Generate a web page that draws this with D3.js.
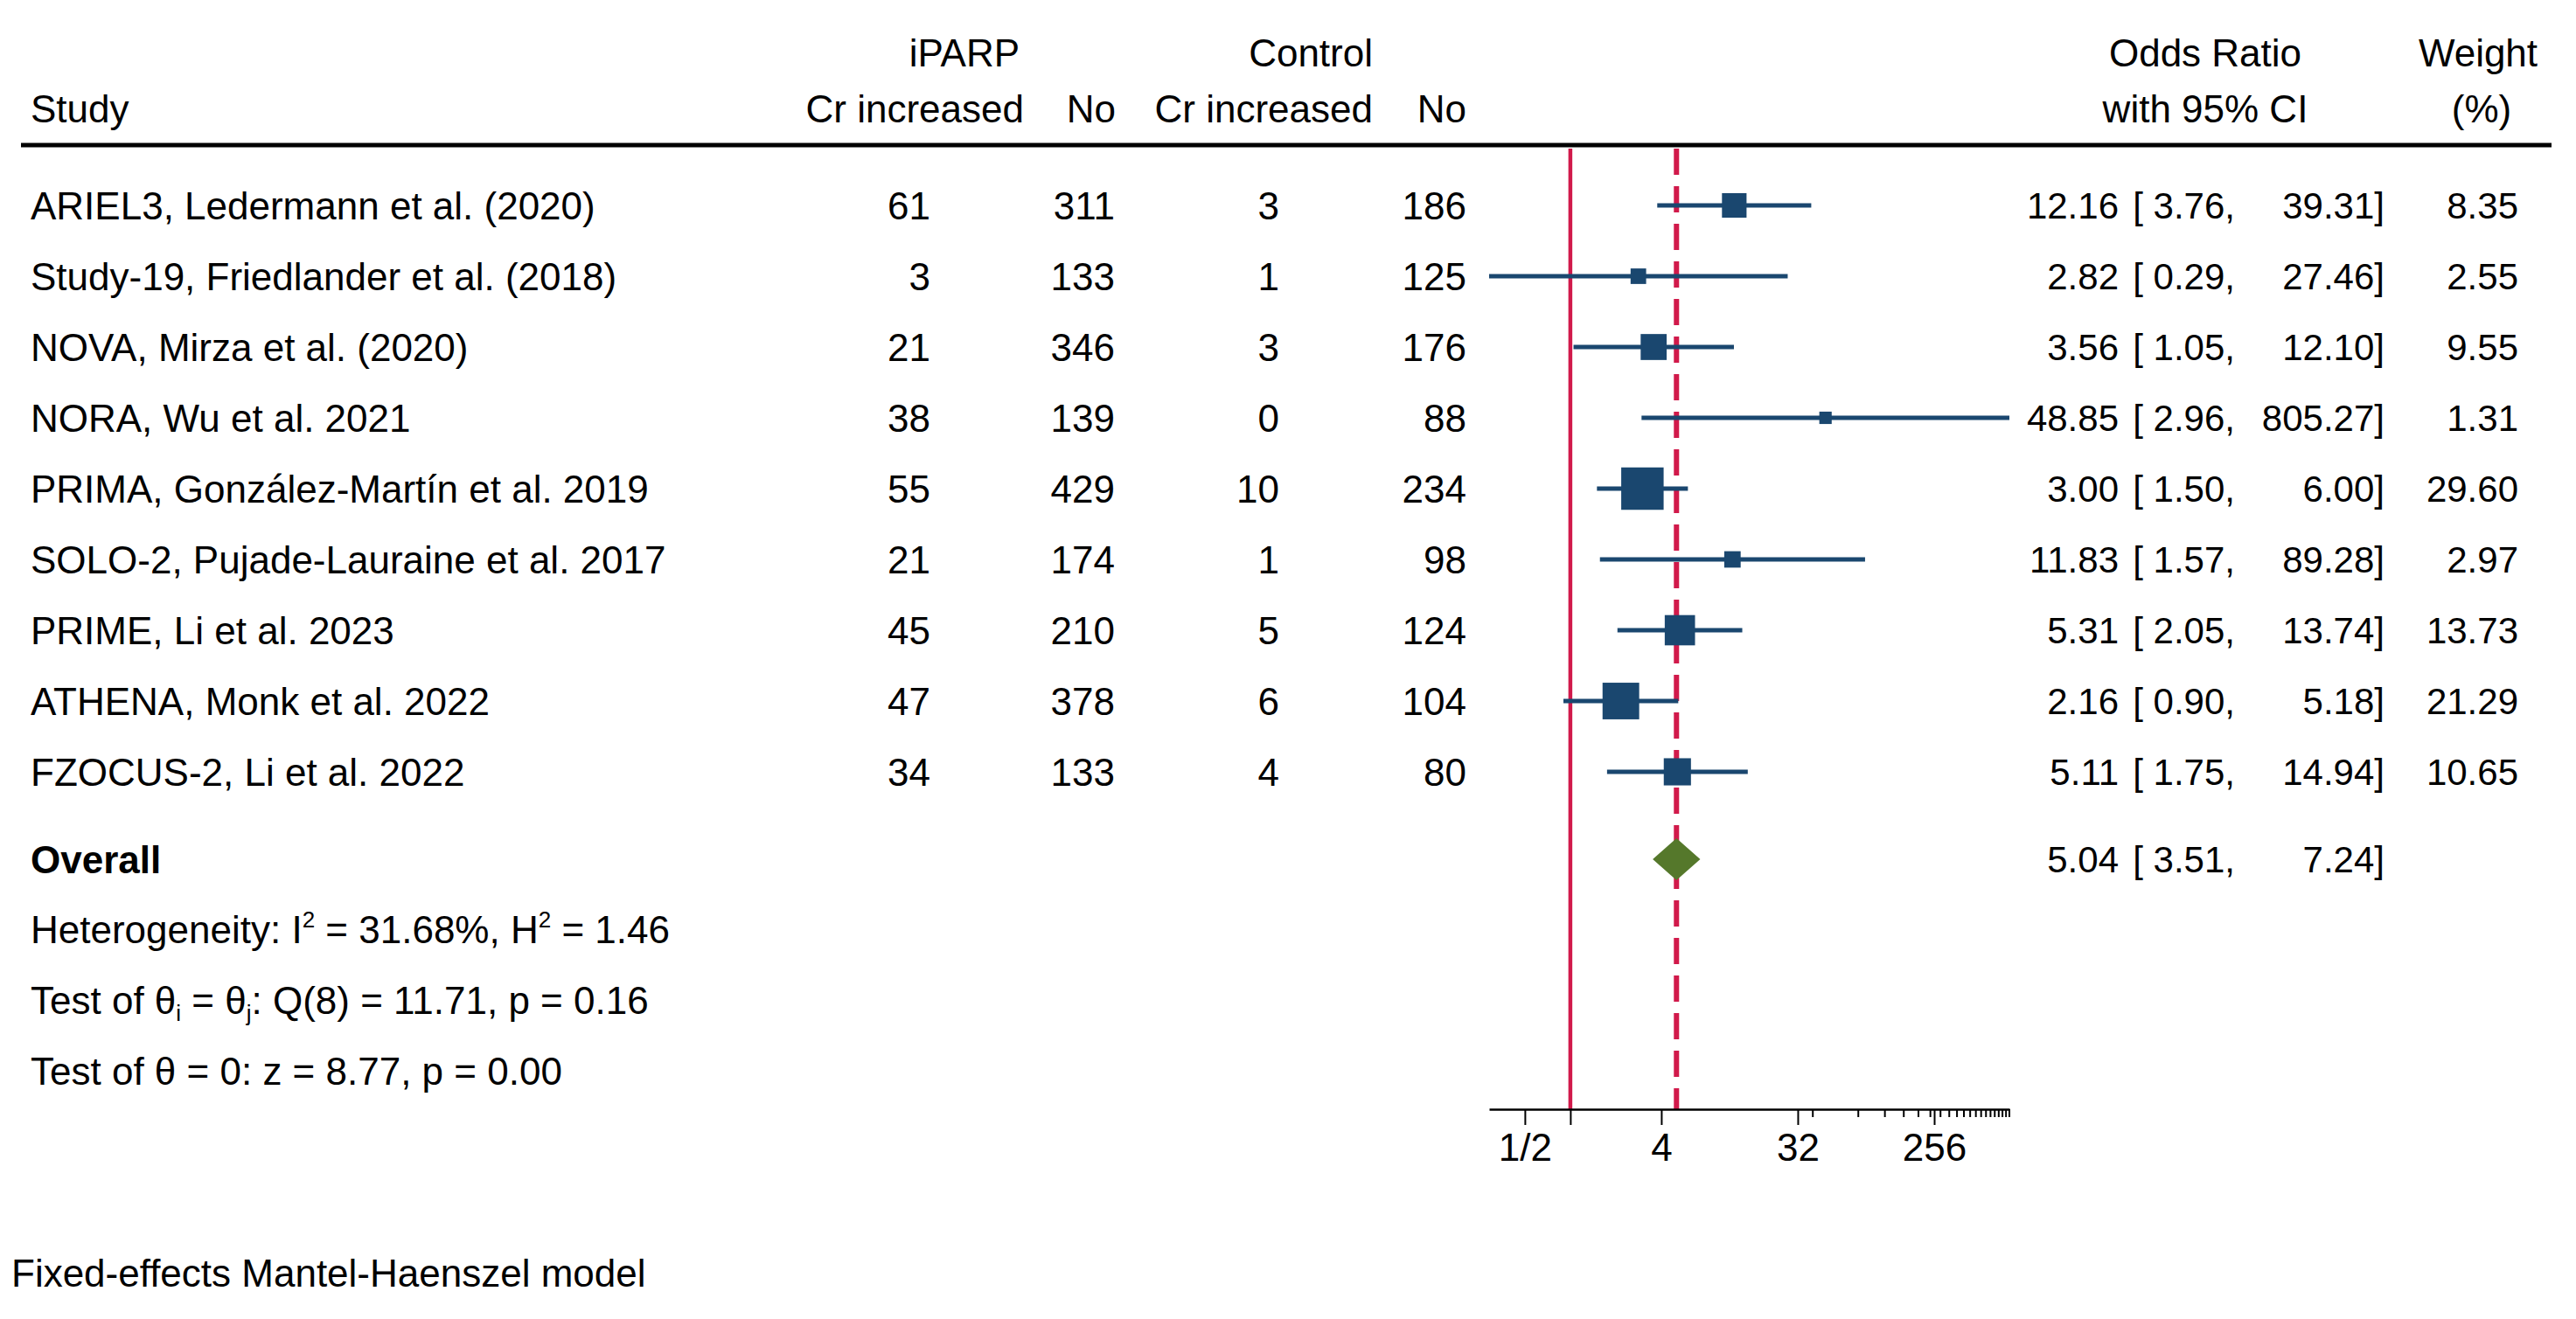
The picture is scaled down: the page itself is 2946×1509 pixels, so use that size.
<!DOCTYPE html>
<html>
<head>
<meta charset="utf-8">
<script src="https://cdn.jsdelivr.net/npm/d3@7"></script>
<style>
  html, body { margin: 0; padding: 0; background: #fff; }
  svg { display: block; font-family: "Liberation Sans", Arial, sans-serif; }
</style>
</head>
<body>
<div id="chart"></div>
<script>
// data
const studies = [
  "ARIEL3, Ledermann et al. (2020)",
  "Study-19, Friedlander et al. (2018)",
  "NOVA, Mirza et al. (2020)",
  "NORA, Wu et al. 2021",
  "PRIMA, González-Martín et al. 2019",
  "SOLO-2, Pujade-Lauraine et al. 2017",
  "PRIME, Li et al. 2023",
  "ATHENA, Monk et al. 2022",
  "FZOCUS-2, Li et al. 2022"
];
const iparpCr = [61, 3, 21, 38, 55, 21, 45, 47, 34];
const iparpNo = [311, 133, 346, 139, 429, 174, 210, 378, 133];
const ctrlCr = [3, 1, 3, 0, 10, 1, 5, 6, 4];
const ctrlNo = [186, 125, 176, 88, 234, 98, 124, 104, 80];
const oddsRatio = [12.16, 2.82, 3.56, 48.85, 3.00, 11.83, 5.31, 2.16, 5.11];
const ciLow = [3.76, 0.29, 1.05, 2.96, 1.50, 1.57, 2.05, 0.90, 1.75];
const ciHigh = [39.31, 27.46, 12.10, 805.27, 6.00, 89.28, 13.74, 5.18, 14.94];
const weights = [8.35, 2.55, 9.55, 1.31, 29.60, 2.97, 13.73, 21.29, 10.65];

const overallOR = 5.04, overallLow = 3.51, overallHigh = 7.24;

const majorTicks = [0.5, 1, 4, 32, 256];
const majorLabels = ["1/2", "", "4", "32", "256"];
const minorTicks = [40, 80, 120, 160, 200, 240, 280, 320, 360, 400, 440, 480,
                    520, 560, 600, 640, 680, 720, 760, 800];

(() => {
  const W = 2946, H = 1509;
  const navy = "#1a476f", red = "#d11a4b", green = "#55782b";
  const fsText = 44, fsNum = 42, fsAxis = 44;

  const svg = d3.select("#chart").append("svg")
    .attr("width", W).attr("height", H)
    .attr("viewBox", `0 0 ${W} ${H}`);

  const rows = studies.map((s, i) => ({
    study: s, a: iparpCr[i], b: iparpNo[i], c: ctrlCr[i], d: ctrlNo[i],
    or: oddsRatio[i], lo: ciLow[i], hi: ciHigh[i], w: weights[i]
  }));

  const x = d3.scaleLog().base(2)
    .domain([d3.min(ciLow), d3.max(ciHigh)])
    .range([1703, 2298]);

  const y = d3.scalePoint().domain(studies).range([235, 883]);
  const yOverall = 983;
  const side = d3.scaleSqrt().domain([0, d3.max(weights)]).range([5, 48.5]);

  const plotTop = 170, axisY = 1269;
  const base = (yc, fs) => yc + fs * 0.36;

  // headers
  const hdr = svg.append("g").attr("font-size", fsText).attr("fill", "#000");
  const h1 = 76, h2 = 140;
  const header = [
    ["iPARP", 1166, h1, "end"], ["Control", 1570, h1, "end"],
    ["Odds Ratio", 2522, h1, "middle"], ["Weight", 2834, h1, "middle"],
    ["Study", 35, h2, "start"], ["Cr increased", 1171, h2, "end"], ["No", 1276, h2, "end"],
    ["Cr increased", 1570, h2, "end"], ["No", 1677, h2, "end"],
    ["with 95% CI", 2522, h2, "middle"], ["(%)", 2838, h2, "middle"]
  ];
  hdr.selectAll("text").data(header).join("text")
    .attr("x", d => d[1]).attr("y", d => d[2])
    .attr("text-anchor", d => d[3])
    .text(d => d[0]);

  svg.append("line")
    .attr("x1", 24).attr("x2", 2918).attr("y1", 166).attr("y2", 166)
    .attr("stroke", "#000").attr("stroke-width", 5);

  // reference lines
  svg.append("line")
    .attr("x1", x(1)).attr("x2", x(1)).attr("y1", plotTop).attr("y2", axisY)
    .attr("stroke", red).attr("stroke-width", 4.5);
  svg.append("line")
    .attr("x1", x(overallOR)).attr("x2", x(overallOR)).attr("y1", plotTop).attr("y2", axisY)
    .attr("stroke", red).attr("stroke-width", 6)
    .attr("stroke-dasharray", "30,13");

  // study rows
  const g = svg.append("g");
  const cols = [
    ["a", 1064], ["b", 1275], ["c", 1463], ["d", 1677]
  ];
  const tx = g.append("g").attr("font-size", fsText);
  tx.selectAll("text.study").data(rows).join("text").attr("class", "study")
    .attr("x", 35).attr("y", d => base(y(d.study), fsText)).text(d => d.study);
  cols.forEach(([k, cx]) => {
    tx.selectAll(`text.c${k}`).data(rows).join("text").attr("class", `c${k}`)
      .attr("x", cx).attr("y", d => base(y(d.study), fsText))
      .attr("text-anchor", "end").text(d => d[k]);
  });

  const f2 = d3.format(".2f");
  const nx = g.append("g").attr("font-size", fsNum).attr("text-anchor", "end");
  const numCols = [
    [d => f2(d.or), 2423], [d => `[ ${f2(d.lo)},`, 2556],
    [d => `${f2(d.hi)}]`, 2727], [d => f2(d.w), 2880]
  ];
  numCols.forEach(([fn, cx], j) => {
    nx.selectAll(`text.n${j}`).data(rows).join("text").attr("class", `n${j}`)
      .attr("x", cx).attr("y", d => base(y(d.study), fsNum)).text(fn);
  });

  // CI lines and squares
  g.selectAll("line.ci").data(rows).join("line").attr("class", "ci")
    .attr("x1", d => x(d.lo)).attr("x2", d => x(d.hi))
    .attr("y1", d => y(d.study)).attr("y2", d => y(d.study))
    .attr("stroke", navy).attr("stroke-width", 5);
  g.selectAll("rect.box").data(rows).join("rect").attr("class", "box")
    .attr("x", d => x(d.or) - side(d.w) / 2)
    .attr("y", d => y(d.study) - side(d.w) / 2)
    .attr("width", d => side(d.w)).attr("height", d => side(d.w))
    .attr("fill", navy);

  // overall
  svg.append("text").attr("x", 35).attr("y", base(yOverall, fsText))
    .attr("font-size", fsText).attr("font-weight", "bold").text("Overall");
  svg.append("polygon")
    .attr("points", [
      [x(overallLow), yOverall], [x(overallOR), yOverall - 24],
      [x(overallHigh), yOverall], [x(overallOR), yOverall + 24]
    ].map(p => p.join(",")).join(" "))
    .attr("fill", green);
  const ov = svg.append("g").attr("font-size", fsNum).attr("text-anchor", "end");
  [[f2(overallOR), 2423], [`[ ${f2(overallLow)},`, 2556], [`${f2(overallHigh)}]`, 2727]]
    .forEach(([t, cx]) => ov.append("text").attr("x", cx).attr("y", base(yOverall, fsNum)).text(t));

  // heterogeneity / tests
  const st = svg.append("g").attr("font-size", fsText);
  const sup = (el, s) => el.append("tspan").attr("font-size", 26).attr("dy", -18).text(s);
  const back = (el, s, dy) => el.append("tspan").attr("dy", dy).text(s);

  const t1 = st.append("text").attr("x", 35).attr("y", base(1063, fsText));
  t1.append("tspan").text("Heterogeneity: I");
  sup(t1, "2");
  back(t1, " = 31.68%, H", 18);
  sup(t1, "2");
  back(t1, " = 1.46", 18);

  const t2 = st.append("text").attr("x", 35).attr("y", base(1144, fsText));
  t2.append("tspan").text("Test of θ");
  t2.append("tspan").attr("font-size", 26).attr("dy", 8).text("i");
  back(t2, " = θ", -8);
  t2.append("tspan").attr("font-size", 26).attr("dy", 8).text("j");
  back(t2, ": Q(8) = 11.71, p = 0.16", -8);

  st.append("text").attr("x", 35).attr("y", base(1225, fsText))
    .text("Test of θ = 0: z = 8.77, p = 0.00");

  // x axis
  const ax = svg.append("g").attr("transform", `translate(0,${axisY})`);
  ax.call(d3.axisBottom(x).tickValues(minorTicks).tickSize(9).tickFormat(""))
    .call(s => s.select(".domain").remove());
  ax.append("g").call(
      d3.axisBottom(x).tickValues(majorTicks).tickSize(18).tickSizeOuter(0)
        .tickPadding(10).tickFormat((d, i) => majorLabels[i]))
    .call(s => s.selectAll("text").attr("font-size", fsAxis)
      .attr("font-family", "Liberation Sans, Arial, sans-serif").attr("fill", "#000"));
  ax.selectAll("line").attr("stroke", "#000").attr("stroke-width", 2);
  ax.selectAll(".domain").attr("stroke", "#000").attr("stroke-width", 2.5);

  // footnote
  svg.append("text").attr("x", 13).attr("y", base(1456, fsText))
    .attr("font-size", fsText).text("Fixed-effects Mantel-Haenszel model");
})();
</script>
</body>
</html>
